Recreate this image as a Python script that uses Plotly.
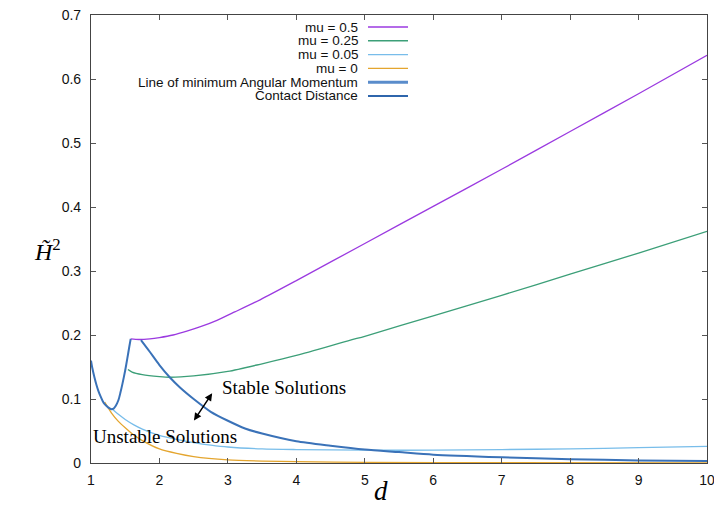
import plotly.graph_objects as go

# Series: (d, H~^2) samples for each curve
d_mu050 = [1.58, 1.70, 1.86, 2.00, 2.20, 2.40, 2.60, 2.84, 3.10, 3.47, 4.0, 5.0, 6.0, 7.0, 8.0, 9.0, 10.0]
h_mu050 = [0.194, 0.193, 0.194, 0.196, 0.200, 0.206, 0.213, 0.223, 0.236, 0.255, 0.285, 0.343, 0.401, 0.459, 0.518, 0.577, 0.637]

d_mu025 = [1.54, 1.60, 1.75, 2.00, 2.15, 2.50, 3.00, 3.50, 4.00, 4.79, 5.0, 6.0, 7.0, 8.0, 9.0, 10.0]
h_mu025 = [0.146, 0.142, 0.138, 0.135, 0.134, 0.136, 0.143, 0.155, 0.168, 0.192, 0.198, 0.230, 0.262, 0.295, 0.328, 0.362]

d_mu005 = [1.30, 1.40, 1.50, 1.62, 1.75, 2.00, 2.25, 2.50, 2.75, 3.00, 3.50, 4.0, 5.0, 6.0, 7.0, 8.0, 9.0, 10.0]
h_mu005 = [0.085, 0.076, 0.068, 0.060, 0.053, 0.043, 0.037, 0.032, 0.028, 0.025, 0.022, 0.021, 0.020, 0.020, 0.021, 0.022, 0.024, 0.026]

d_mu000 = [1.20, 1.30, 1.40, 1.50, 1.62, 1.75, 2.00, 2.25, 2.50, 3.00, 3.50, 4.0, 5.0, 7.0, 10.0]
h_mu000 = [0.095, 0.078, 0.065, 0.055, 0.044, 0.035, 0.022, 0.015, 0.010, 0.005, 0.003, 0.002, 0.001, 0.0005, 0.0002]

d_minL = [1.73, 1.85, 2.00, 2.15, 2.30, 2.50, 2.75, 3.00, 3.25, 3.50, 4.0, 4.5, 5.0, 5.5, 6.0, 7.0, 8.0, 9.0, 10.0]
h_minL = [0.192, 0.175, 0.153, 0.134, 0.118, 0.100, 0.080, 0.066, 0.054, 0.046, 0.034, 0.027, 0.021, 0.017, 0.013, 0.009, 0.006, 0.004, 0.003]

d_contact = [1.00, 1.02, 1.05, 1.08, 1.11, 1.14, 1.17, 1.20, 1.25, 1.30, 1.33, 1.36, 1.40, 1.43, 1.46, 1.50, 1.53, 1.56, 1.58]
h_contact = [0.160, 0.148, 0.134, 0.122, 0.112, 0.104, 0.097, 0.092, 0.087, 0.084, 0.085, 0.089, 0.098, 0.110, 0.124, 0.145, 0.163, 0.182, 0.194]

names = ["mu = 0.5", "mu = 0.25", "mu = 0.05", "mu = 0",
         "Line of minimum Angular Momentum", "Contact Distance"]
colors = ["#9b3ae0", "#3c9f78", "#78bdea", "#e4a52e", "#5a8ccb", "#2f66ac"]
widths = [1.3, 1.3, 1.3, 1.3, 2.0, 2.0]
legend_widths = [1.3, 1.5, 1.3, 1.3, 3.0, 2.0]
series = [(d_mu050, h_mu050), (d_mu025, h_mu025), (d_mu005, h_mu005),
          (d_mu000, h_mu000), (d_minL, h_minL), (d_contact, h_contact)]
plot_colors = colors[:4] + ["#3a72b8", "#3a72b8"]

x_ticks = [1, 2, 3, 4, 5, 6, 7, 8, 9, 10]
y_ticks = [0, 0.1, 0.2, 0.3, 0.4, 0.5, 0.6, 0.7]
y_tick_text = ["0", "0.1", "0.2", "0.3", "0.4", "0.5", "0.6", "0.7"]

fig = go.Figure()
for (xs, ys), name, col, w in zip(series, names, plot_colors, widths):
    fig.add_trace(go.Scatter(x=xs, y=ys, mode="lines", name=name,
                             line=dict(color=col, width=w, shape="spline", smoothing=0.7),
                             showlegend=False))

W, H = 714, 509
L, R, T, B = 91, 7, 15, 46
pw, ph = W - L - R, H - T - B

def px_to_paper(px, py):
    return (px - L) / pw, (H - B - py) / ph

# Key: right-aligned labels with sample lines to their right
shapes = []
annotations = []
for i, (name, col, lw) in enumerate(zip(names, colors, legend_widths)):
    row_y = 27 + i * 13.8
    tx, ty = px_to_paper(360, row_y)
    annotations.append(dict(x=tx, y=ty, xref="paper", yref="paper", text=name,
                            showarrow=False, xanchor="right", yanchor="middle",
                            font=dict(family="Liberation Sans", size=13.5, color="#111")))
    x0, _ = px_to_paper(368, row_y)
    x1, _ = px_to_paper(408, row_y)
    shapes.append(dict(type="line", xref="paper", yref="paper", x0=x0, x1=x1, y0=ty, y1=ty,
                       line=dict(color=col, width=lw)))

serif = "Liberation Serif"
ylab_x, ylab_y = px_to_paper(47, 250)
xlab_x, xlab_y = px_to_paper(381, 491)
annotations += [
    dict(x=2.88, y=0.118, xref="x", yref="y", text="Stable Solutions", showarrow=False,
         xanchor="left", yanchor="middle", font=dict(family=serif, size=19, color="#000")),
    dict(x=1.0, y=0.041, xref="x", yref="y", text="Unstable Solutions", showarrow=False,
         xanchor="left", yanchor="middle", font=dict(family=serif, size=19, color="#000")),
    dict(x=2.77, y=0.109, ax=2.49, ay=0.064, xref="x", yref="y", axref="x", ayref="y",
         text="", showarrow=True, arrowhead=2, arrowside="end+start", arrowsize=1,
         arrowwidth=1.5, arrowcolor="#000"),
    dict(x=ylab_x, y=ylab_y, xref="paper", yref="paper", text="<i>H̃</i><sup>2</sup>",
         showarrow=False, font=dict(family=serif, size=24, color="#000"),
         xanchor="center", yanchor="middle"),
    dict(x=xlab_x, y=xlab_y, xref="paper", yref="paper", text="<i>d</i>",
         showarrow=False, font=dict(family=serif, size=27, color="#000"),
         xanchor="center", yanchor="middle"),
]

fig.update_layout(
    width=W, height=H,
    margin=dict(l=L, r=R, t=T, b=B, pad=0, autoexpand=False),
    paper_bgcolor="white", plot_bgcolor="white",
    shapes=shapes, annotations=annotations,
    showlegend=False,
    xaxis=dict(range=[1, 10], tickvals=x_ticks, ticks="inside", ticklen=5, tickcolor="#555",
               showline=True, linecolor="#444", linewidth=1.2, mirror="ticks",
               showgrid=False, zeroline=False, automargin=False,
               tickfont=dict(family="Liberation Sans", size=14, color="#111"),
               ticklabelstandoff=4, ticklabeloverflow="allow"),
    yaxis=dict(range=[0, 0.7], tickvals=y_ticks, ticktext=y_tick_text, ticks="inside",
               ticklen=5, tickcolor="#555", showline=True, linecolor="#444", linewidth=1.2,
               mirror="ticks", showgrid=False, zeroline=False, automargin=False,
               tickfont=dict(family="Liberation Sans", size=14, color="#111"),
               ticklabelstandoff=6, ticklabeloverflow="allow"),
)

fig.write_html("out.html")
